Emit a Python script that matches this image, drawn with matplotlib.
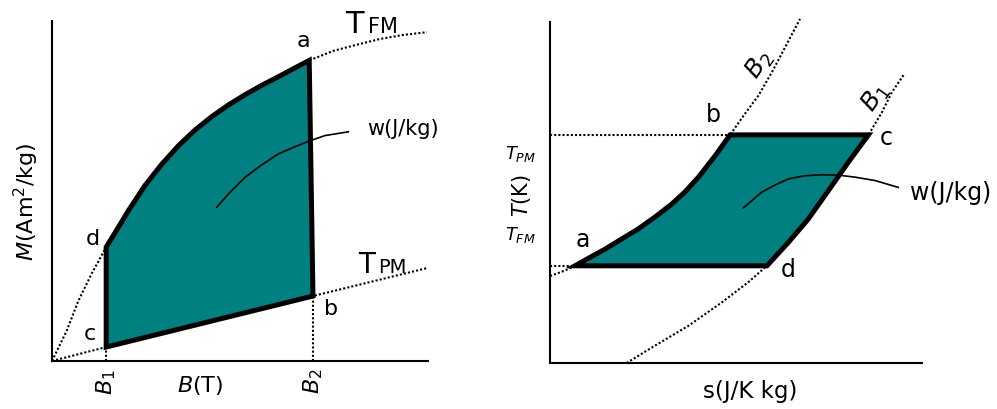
import matplotlib
matplotlib.use("Agg")
import matplotlib.pyplot as plt

# ---- left panel: M(B) diagram (arbitrary units, 0..10) ----
# T_FM isotherm (dotted)
tfm_B = [0.0, 0.39, 0.70, 1.05, 1.44, 1.68, 2.03, 2.47, 2.92, 3.36, 3.80, 4.25,
         4.69, 5.13, 5.58, 6.02, 6.46, 6.84, 7.48, 8.10, 8.72, 9.34, 9.97]
tfm_M = [0.0, 0.89, 1.77, 2.56, 3.35, 3.78, 4.42, 5.16, 5.79, 6.33, 6.79, 7.19,
         7.53, 7.83, 8.11, 8.36, 8.62, 8.84, 9.12, 9.30, 9.47, 9.59, 9.67]
# T_PM isotherm (dotted)
tpm_B = [0.0, 1.44, 6.94, 10.0]
tpm_M = [0.0, 0.41, 1.91, 2.74]
# cycle d -> a (on T_FM), a -> b, b -> c (on T_PM)
cycle_B = [1.44, 1.68, 2.03, 2.47, 2.92, 3.36, 3.80, 4.25, 4.69, 5.13, 5.58,
           6.02, 6.46, 6.84, 6.94, 1.44]
cycle_M = [3.35, 3.78, 4.42, 5.16, 5.79, 6.33, 6.79, 7.19, 7.53, 7.83, 8.11,
           8.36, 8.62, 8.84, 1.91, 0.41]
B1, B2 = 1.44, 6.94
M_c, M_b = 0.41, 1.91
work_B = [4.38, 4.69, 5.13, 5.58, 6.02, 6.46, 6.82, 7.26, 7.88]
work_M = [4.52, 4.91, 5.40, 5.77, 6.09, 6.30, 6.46, 6.63, 6.74]

# ---- right panel: T(s) diagram (arbitrary units, 0..10) ----
b2_s = [0.0, 0.40, 0.67, 1.03, 1.48, 1.93, 2.37, 2.82, 3.27, 3.63, 3.99, 4.44,
        4.84, 5.22, 5.60, 5.96, 6.32, 6.72]
b2_T = [2.55, 2.71, 2.85, 3.07, 3.34, 3.64, 3.93, 4.28, 4.66, 5.02, 5.45, 6.08,
        6.69, 7.28, 7.84, 8.52, 9.26, 10.09]
b1_s = [2.06, 2.82, 3.72, 4.62, 5.33, 5.83, 6.41, 6.94, 7.48, 8.02, 8.56, 8.92, 9.19, 9.52]
b1_T = [0.0, 0.51, 1.09, 1.78, 2.37, 2.85, 3.54, 4.22, 5.05, 5.89, 6.69, 7.35, 7.94, 8.47]
# cycle a -> b (on B2), b -> c, c -> d (on B1), d -> a
cyc_s = [0.67, 1.03, 1.48, 1.93, 2.37, 2.82, 3.27, 3.63, 3.99, 4.44, 4.84,
         8.56, 8.02, 7.48, 6.94, 6.41, 5.83]
cyc_T = [2.85, 3.07, 3.34, 3.64, 3.93, 4.28, 4.66, 5.02, 5.45, 6.08, 6.69,
         6.69, 5.89, 5.05, 4.22, 3.54, 2.85]
T_PM, T_FM = 6.69, 2.85
s_a, s_b = 0.67, 4.84
w_s = [5.20, 5.69, 6.05, 6.41, 6.85, 7.30, 7.75, 8.20, 8.74, 9.36]
w_T = [4.55, 5.01, 5.22, 5.40, 5.49, 5.52, 5.51, 5.45, 5.35, 5.15]

teal = "#008080"
dot = dict(color="black", lw=1.5, linestyle=(0, (1, 1)))

fig = plt.figure(figsize=(9.97, 4.10), dpi=100)
ax1 = fig.add_axes([0.0522, 0.1171, 0.3771, 0.8293])
ax2 = fig.add_axes([0.5517, 0.1122, 0.3731, 0.8317])

for ax in (ax1, ax2):
    ax.set_xlim(0, 10)
    ax.set_ylim(0, 10)
    for side in ("top", "right"):
        ax.spines[side].set_visible(False)
    for side in ("left", "bottom"):
        ax.spines[side].set_linewidth(1.5)
    ax.set_yticks([])
    ax.tick_params(length=0)

# left
ax1.plot(tfm_B, tfm_M, **dot)
ax1.plot(tpm_B, tpm_M, **dot)
ax1.plot([B1, B1], [0, M_c], **dot)
ax1.plot([B2, B2], [0, M_b], **dot)
ax1.fill(cycle_B, cycle_M, facecolor=teal, edgecolor="black", lw=3.6,
         joinstyle="miter", zorder=3)
ax1.plot(work_B, work_M, color="black", lw=1.2, zorder=4)
ax1.set_xticks([B1, B2])
ax1.set_xticklabels(["$B_1$", "$B_2$"], rotation=90, fontsize=16)
ax1.tick_params(axis="x", pad=5)
ax1.text(3.94, -0.88, "$B$(T)", fontsize=16, ha="center", va="baseline")
ax1.text(-0.69, 4.71, "$M$(Am$^2$/kg)", fontsize=16, rotation=90,
         ha="center", va="center")
ax1.text(6.68, 9.26, "a", fontsize=16, ha="center", va="baseline")
ax1.text(1.09, 3.44, "d", fontsize=16, ha="center", va="baseline")
ax1.text(1.01, 0.65, "c", fontsize=16, ha="center", va="baseline")
ax1.text(7.42, 1.38, "b", fontsize=16, ha="center", va="baseline")
ax1.text(8.38, 6.68, "w(J/kg)", fontsize=15, ha="left", va="baseline")
ax1.text(7.79, 9.68, "T", fontsize=22, ha="left", va="baseline")
ax1.text(8.40, 9.68, "FM", fontsize=15, ha="left", va="baseline")
ax1.text(8.14, 2.62, "T", fontsize=20, ha="left", va="baseline")
ax1.text(8.67, 2.62, "PM", fontsize=14, ha="left", va="baseline")

# right
ax2.set_xticks([])
ax2.plot(b2_s, b2_T, clip_on=False, **dot)
ax2.plot(b1_s, b1_T, **dot)
ax2.plot([0, s_b], [T_PM, T_PM], **dot)
ax2.plot([0, s_a], [T_FM, T_FM], **dot)
ax2.fill(cyc_s, cyc_T, facecolor=teal, edgecolor="black", lw=3.6,
         joinstyle="miter", zorder=3)
ax2.plot(w_s, w_T, color="black", lw=1.2, zorder=4)
ax2.text(4.38, 7.10, "b", fontsize=17, ha="center", va="baseline")
ax2.text(9.03, 6.42, "c", fontsize=17, ha="center", va="baseline")
ax2.text(0.89, 3.43, "a", fontsize=17, ha="center", va="baseline")
ax2.text(6.40, 2.55, "d", fontsize=17, ha="center", va="baseline")
ax2.text(9.68, 4.81, "w(J/kg)", fontsize=17, ha="left", va="baseline")
ax2.text(5.62, 8.77, "$B_2$", fontsize=18, rotation=55, ha="center", va="center")
ax2.text(8.74, 7.80, "$B_1$", fontsize=18, rotation=55, ha="center", va="center")
ax2.text(5.38, -1.0, "s(J/K kg)", fontsize=16.5, ha="center", va="baseline")
ax2.text(-1.21, 6.01, "$T_{PM}$", fontsize=13, ha="left", va="baseline")
ax2.text(-1.21, 3.64, "$T_{FM}$", fontsize=13, ha="left", va="baseline")
ax2.text(-0.78, 4.93, "$T$(K)", fontsize=15, rotation=90, ha="center", va="center")

fig.savefig("out.png", dpi=100)
